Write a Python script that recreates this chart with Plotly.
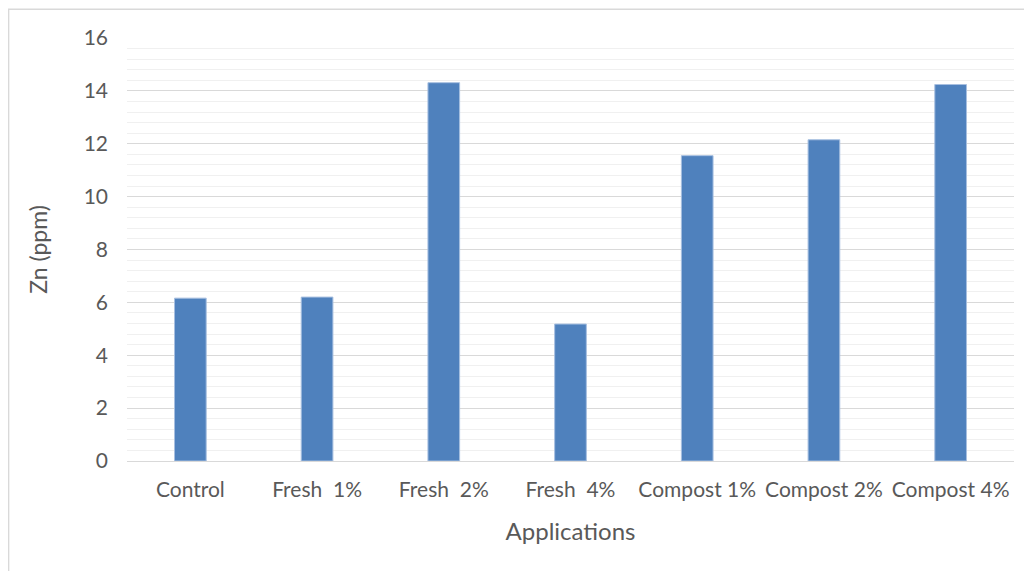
import plotly.graph_objects as go

categories = ["Control", "Fresh\u00a0 1%", "Fresh\u00a0 2%", "Fresh\u00a0 4%", "Compost 1%", "Compost 2%", "Compost 4%"]
zn_values = [6.16, 6.2, 14.31, 5.18, 11.55, 12.15, 14.24]
y_ticks = [0, 2, 4, 6, 8, 10, 12, 14, 16]

FONT = "Lato, Open Sans, sans-serif"
TXT = "#595959"

fig = go.Figure()
fig.add_trace(go.Bar(
    x=categories, y=zn_values,
    marker=dict(color="#4f81bd", line=dict(color="#a7bfe0", width=1)),
    width=0.25,
))

fig.update_layout(
    width=1024, height=563,
    margin=dict(l=119, r=18, t=30, b=110),
    paper_bgcolor="white", plot_bgcolor="white",
    showlegend=False,
    font=dict(family=FONT, color=TXT, size=21),
    xaxis=dict(
        showgrid=False, showline=True, linecolor="#d9d9d9", linewidth=1,
        ticks="", tickfont=dict(size=21, color=TXT), ticklabelstandoff=10,
        title=dict(text="Applications", font=dict(size=24, color=TXT), standoff=22),
    ),
    yaxis=dict(
        range=[0, 16], tickvals=y_ticks, showgrid=True, gridcolor="#d9d9d9", gridwidth=1,
        zeroline=False, showline=False, ticks="",
        tickfont=dict(size=21, color=TXT), ticklabelstandoff=18,
        minor=dict(dtick=0.4, tick0=0, showgrid=True, gridcolor="#f0f0f0", gridwidth=1),
        title=dict(text="Zn (ppm)", font=dict(size=23, color=TXT), standoff=29),
    ),
    shapes=[dict(type="rect", xref="paper", yref="paper",
                 x0=-0.1335, x1=1.2, y0=-0.4, y1=1.068,
                 line=dict(color="#d9d9d9", width=1.5), fillcolor="rgba(0,0,0,0)", layer="below")],
)

fig.write_html("out.html")
